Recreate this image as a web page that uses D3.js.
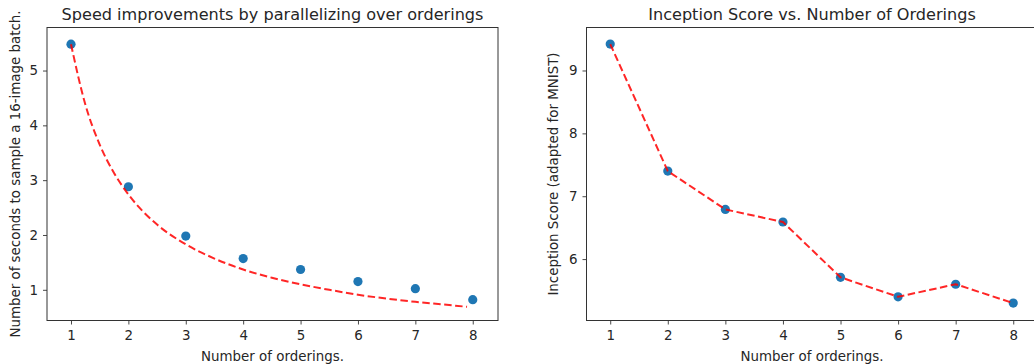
<!DOCTYPE html>
<html><head><meta charset="utf-8">
<script src="https://cdn.jsdelivr.net/npm/d3@7"></script>
<style>
body{margin:0;background:#fff;}
svg{display:block;}
text{font-family:"DejaVu Sans",sans-serif;fill:#262626;}
</style></head>
<body>
<svg id="chart" width="1034" height="364"></svg>
<script>
// ---- data ----
const orderings = [1, 2, 3, 4, 5, 6, 7, 8];
const sampleSeconds = [5.48, 2.88, 1.98, 1.57, 1.37, 1.15, 1.02, 0.82];
// fitted dashed curve
const fitX = [1, 1.25, 1.5, 1.75, 2, 2.5, 3, 3.5, 4, 4.5, 5, 5.5, 6, 6.5, 7, 7.5, 7.9];
const fitY = [5.48, 4.38, 3.65, 3.13, 2.74, 2.19, 1.83, 1.57, 1.37, 1.22, 1.10, 1.00, 0.91, 0.84, 0.78, 0.73, 0.69];
const inceptionScore = [9.42, 7.40, 6.79, 6.59, 5.71, 5.40, 5.60, 5.30];
const xTicks = [1, 2, 3, 4, 5, 6, 7, 8];
const yTicksLeft = [1, 2, 3, 4, 5];
const yTicksRight = [6, 7, 8, 9];

const svg = d3.select("#chart");

function panel(opt) {
  const g = svg.append("g");
  const x = d3.scaleLinear().domain(opt.xDomain).range([opt.left, opt.right]);
  const y = d3.scaleLinear().domain(opt.yDomain).range([opt.bottom, opt.top]);

  // dots
  g.selectAll("circle").data(opt.xs).join("circle")
    .attr("cx", d => x(d)).attr("cy", (d, i) => y(opt.ys[i]))
    .attr("r", 4.6).attr("fill", "#1f77b4");

  // dashed line
  const line = d3.line().x(d => x(d[0])).y(d => y(d[1])).curve(opt.curve);
  g.append("path").datum(opt.lx.map((v, i) => [v, opt.ly[i]]))
    .attr("d", line).attr("fill", "none")
    .attr("stroke", "#ff0000").attr("stroke-opacity", 0.85)
    .attr("stroke-width", 2).attr("stroke-dasharray", "7.5,3.5");

  // axes
  const xa = g.append("g").attr("transform", `translate(0,${opt.bottom})`)
    .call(d3.axisBottom(x).tickValues(xTicks).tickFormat(d3.format("d")).tickSize(4).tickPadding(6));
  const ya = g.append("g").attr("transform", `translate(${opt.left},0)`)
    .call(d3.axisLeft(y).tickValues(opt.yTicks).tickFormat(d3.format("d")).tickSize(4).tickPadding(5));
  [xa, ya].forEach(a => {
    a.select(".domain").remove();
    a.selectAll(".tick line").attr("stroke", "#333").attr("stroke-width", 0.9);
    a.selectAll(".tick text").attr("font-size", 13.4).attr("fill", "#262626")
      .style("font-family", '"DejaVu Sans", sans-serif');
  });

  // frame
  g.append("rect").attr("x", opt.left).attr("y", opt.top)
    .attr("width", opt.right - opt.left).attr("height", opt.bottom - opt.top)
    .attr("fill", "none").attr("stroke", "#333").attr("stroke-width", 1);

  // title
  g.append("text").attr("x", (opt.left + opt.rightTitle) / 2).attr("y", 20)
    .attr("text-anchor", "middle").attr("font-size", 16.1).text(opt.title);
  // x label
  g.append("text").attr("x", (opt.left + opt.rightTitle) / 2).attr("y", 361)
    .attr("text-anchor", "middle").attr("font-size", 13.4).text("Number of orderings.");
  // y label
  const cy = (opt.top + opt.bottom) / 2;
  g.append("text").attr("transform", `translate(${opt.ylabelX},${cy}) rotate(-90)`)
    .attr("text-anchor", "middle").attr("font-size", 13.4).text(opt.ylabel);
}

panel({
  left: 47, right: 498, rightTitle: 498, top: 27.5, bottom: 320.5,
  xDomain: [0.582, 8.44], yDomain: [0.44, 5.785],
  xs: orderings, ys: sampleSeconds, lx: fitX, ly: fitY, curve: d3.curveMonotoneX,
  yTicks: yTicksLeft,
  title: "Speed improvements by parallelizing over orderings",
  ylabel: "Number of seconds to sample a 16-image batch.",
  ylabelX: 20
});

panel({
  left: 586.5, right: 1038, rightTitle: 1037.5, top: 27.5, bottom: 320.5,
  xDomain: [0.588, 8.43], yDomain: [5.023, 9.684],
  xs: orderings, ys: inceptionScore, lx: orderings, ly: inceptionScore, curve: d3.curveLinear,
  yTicks: yTicksRight,
  title: "Inception Score vs. Number of Orderings",
  ylabel: "Inception Score (adapted for MNIST)",
  ylabelX: 558
});
</script>
</body></html>
